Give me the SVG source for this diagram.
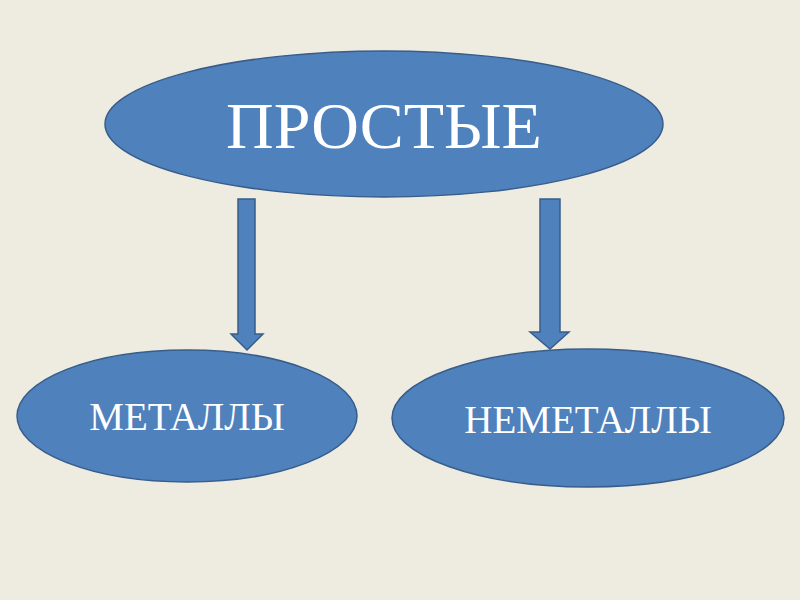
<svg xmlns="http://www.w3.org/2000/svg" width="800" height="600" viewBox="0 0 800 600">
<style>
.node{fill:#4F81BD;stroke:#385D8A;stroke-width:1.5}
.arrow{fill:#4F81BD;stroke:#385D8A;stroke-width:1.5;stroke-linejoin:miter}
.lbl{fill:#FFFFFF;font-family:"Liberation Serif","Times New Roman",serif;text-anchor:middle}
</style>
<rect width="800" height="600" fill="#EEECE1"/>
<g id="connectors">
<polygon class="arrow" points="238,199 255,199 255,334 263,334 247,350 231,334 238,334"/>
<polygon class="arrow" points="540,199 560,199 560,332 569,332 550,349 530,332 540,332"/>
</g>
<g id="node-prostye">
<ellipse class="node" cx="384" cy="124" rx="279" ry="73"/>
<text class="lbl" x="384" y="148" font-size="66">ПРОСТЫЕ</text>
</g>
<g id="node-metally">
<ellipse class="node" cx="187" cy="416" rx="170" ry="66"/>
<text class="lbl" x="187" y="430" font-size="39">МЕТАЛЛЫ</text>
</g>
<g id="node-nemetally">
<ellipse class="node" cx="588" cy="418" rx="196" ry="69"/>
<text class="lbl" x="588" y="433" font-size="39">НЕМЕТАЛЛЫ</text>
</g>
</svg>
